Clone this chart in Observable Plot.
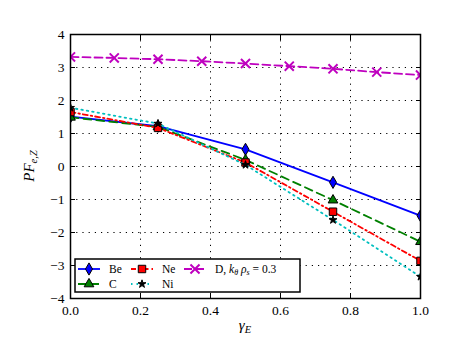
<!DOCTYPE html>
<html>
<head>
<meta charset="utf-8">
<script src="https://cdn.jsdelivr.net/npm/d3@7"></script>
<script src="https://cdn.jsdelivr.net/npm/@observablehq/plot@0.6"></script>
<style>
  html, body { margin: 0; padding: 0; background: #fff; }
  #chart { position: relative; width: 466px; height: 351px; }
  #chart svg, #chart svg text { font-family: "Liberation Serif", serif !important; }
</style>
</head>
<body>
<div id="chart"></div>
<script>
// ---- data ----
const gammaE = [0, 0.25, 0.5, 0.75, 1.0];
const beVals = [1.51, 1.22, 0.52, -0.48, -1.49];
const cVals  = [1.49, 1.20, 0.20, -1.02, -2.28];
const neVals = [1.65, 1.17, 0.12, -1.37, -2.86];
const niVals = [1.78, 1.30, 0.05, -1.62, -3.34];
const gammaD = [0, 0.125, 0.25, 0.375, 0.5, 0.625, 0.75, 0.875, 1.0];
const dVals  = [3.32, 3.29, 3.25, 3.19, 3.12, 3.04, 2.96, 2.86, 2.77];
const xTicks = [0, 0.2, 0.4, 0.6, 0.8, 1.0];
const yTicks = [-4, -3, -2, -1, 0, 1, 2, 3, 4];

const series = [
  {name: "Be", vals: beVals, color: "#0000ff", dash: null, symbol: "diamond", r: 3.7, fill: "#0000ff"},
  {name: "C",  vals: cVals,  color: "#008000", dash: "8,5", symbol: "triangle", r: 3.6, fill: "#008000"},
  {name: "Ne", vals: neVals, color: "#ff0000", dash: "5,3,1.5,3", symbol: "square", r: 4.2, fill: "#ff0000"},
  {name: "Ni", vals: niVals, color: "#00bfbf", dash: "1.5,4", symbol: "star", r: 2.5, fill: "#000000"}
];
const tables = series.map(s => gammaE.map((g, i) => ({x: g, y: s.vals[i]})));
const dTable = gammaD.map((g, i) => ({x: g, y: dVals[i]}));

const marks = [
  Plot.gridX(xTicks, {stroke: "#000", strokeOpacity: 1, strokeWidth: 1, strokeDasharray: "1.2,5"}),
  Plot.gridY(yTicks, {stroke: "#000", strokeOpacity: 1, strokeWidth: 1, strokeDasharray: "1.2,5"}),
  Plot.axisX({ticks: xTicks, tickSize: 0, tickPadding: 7, tickFormat: d3.format(".1f"), label: null, fontSize: 13.5}),
  Plot.axisX({ticks: xTicks, tickSize: -5, tickFormat: () => "", label: null, strokeWidth: 1}),
  Plot.axisX({anchor: "top", ticks: xTicks, tickSize: -5, tickFormat: () => "", label: null, strokeWidth: 1}),
  Plot.axisY({ticks: yTicks, tickSize: 0, tickPadding: 6, label: null, fontSize: 13.5}),
  Plot.axisY({ticks: yTicks, tickSize: -5, tickFormat: () => "", label: null, strokeWidth: 1}),
  Plot.axisY({anchor: "right", ticks: yTicks, tickSize: -5, tickFormat: () => "", label: null, strokeWidth: 1}),
];
series.forEach((s, k) => {
  marks.push(Plot.line(tables[k], {x: "x", y: "y", stroke: s.color, strokeWidth: 1.8, strokeDasharray: s.dash, clip: true}));
  marks.push(Plot.dot(tables[k], {x: "x", y: "y", symbol: () => s.symbol, r: s.r, fill: s.fill, stroke: "#000", strokeWidth: 1, clip: true}));
});
marks.push(Plot.line(dTable, {x: "x", y: "y", stroke: "#bf00bf", strokeWidth: 1.8, strokeDasharray: "8,4", clip: true}));
marks.push(Plot.dot(dTable, {x: "x", y: "y", symbol: () => "times", r: 4.2, stroke: "#bf00bf", strokeWidth: 2, clip: true}));
marks.push(Plot.frame({stroke: "#000", strokeWidth: 1.5}));

const plot = Plot.plot({
  width: 466, height: 351,
  marginLeft: 70, marginRight: 46, marginTop: 34, marginBottom: 53,
  x: {domain: [0, 1]},
  y: {domain: [-4, 4]},
  style: {fontSize: "13.5px", color: "#000", background: "#fff"},
  marks
});
document.getElementById("chart").appendChild(plot);

// ---- axis labels (rich text) ----
const svg = d3.select(plot);
const xl = svg.append("text").attr("x", 245).attr("y", 330).attr("text-anchor", "middle")
  .attr("font-size", 15).attr("font-style", "italic");
xl.append("tspan").text("γ");
xl.append("tspan").attr("font-size", 10.5).attr("dy", 3).text("E");

const yl = svg.append("text").attr("transform", "translate(34,166) rotate(-90)").attr("text-anchor", "middle")
  .attr("font-size", 15).attr("font-style", "italic");
yl.append("tspan").text("PF");
yl.append("tspan").attr("font-size", 10.5).attr("dy", 3).text("e,Z");

// ---- legend ----
const lg = svg.append("g").attr("text-anchor", "start");
lg.append("rect").attr("x", 75).attr("y", 259).attr("width", 225).attr("height", 33)
  .attr("fill", "#fff").attr("stroke", "#000").attr("stroke-width", 1.5);
const items = [
  {s: series[0], x: 78, y: 269},
  {s: series[2], x: 131, y: 269},
  {s: series[1], x: 78, y: 284},
  {s: series[3], x: 131, y: 284},
];
const symMap = {diamond: d3.symbolDiamond, triangle: d3.symbolTriangle, square: d3.symbolSquare, star: d3.symbolStar};
items.forEach(({s, x, y}) => {
  lg.append("line").attr("x1", x).attr("x2", x + 22).attr("y1", y).attr("y2", y)
    .attr("stroke", s.color).attr("stroke-width", 1.8).attr("stroke-dasharray", s.dash);
  lg.append("path").attr("d", d3.symbol(symMap[s.symbol], Math.PI * s.r * s.r)())
    .attr("transform", `translate(${x + 11},${y})`).attr("fill", s.fill).attr("stroke", "#000");
  lg.append("text").attr("x", x + 31).attr("y", y + 4).attr("font-size", 11.5).attr("text-anchor", "start").text(s.name);
});
lg.append("line").attr("x1", 184).attr("x2", 206).attr("y1", 269).attr("y2", 269)
  .attr("stroke", "#bf00bf").attr("stroke-width", 1.8).attr("stroke-dasharray", "8,4");
lg.append("path").attr("d", d3.symbol(d3.symbolTimes, Math.PI * 4.2 * 4.2)())
  .attr("transform", "translate(195,269)").attr("fill", "none").attr("stroke", "#bf00bf").attr("stroke-width", 2);
const dt = lg.append("text").attr("x", 215).attr("y", 273).attr("font-size", 11.5).attr("text-anchor", "start");
dt.append("tspan").text("D, ");
dt.append("tspan").attr("font-style", "italic").text("k");
dt.append("tspan").attr("font-size", 8).attr("dy", 2).attr("font-style", "italic").text("θ");
dt.append("tspan").attr("dy", -2).attr("font-style", "italic").text(" ρ");
dt.append("tspan").attr("font-size", 8).attr("dy", 2).attr("font-style", "italic").text("s");
dt.append("tspan").attr("dy", -2).text(" = 0.3");
</script>
</body>
</html>
